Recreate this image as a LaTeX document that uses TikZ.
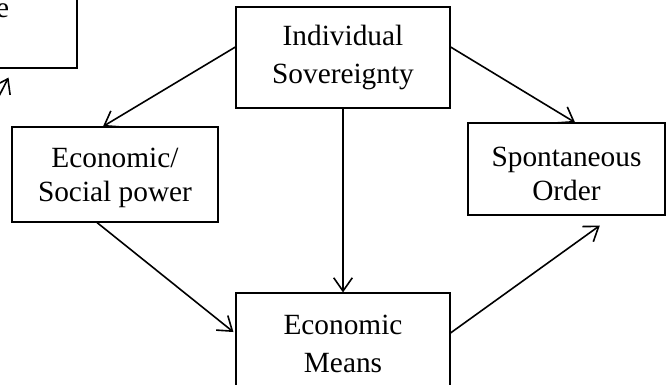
\documentclass[tikz,border=0pt]{standalone}
\usepackage{fontspec}
\setmainfont{Liberation Serif}
\usetikzlibrary{arrows.meta}
\begin{document}
\begin{tikzpicture}[x=0.75pt,y=-0.75pt,
  box/.style={draw, line width=0.8pt, inner sep=0pt, align=center,
    font=\fontsize{22pt}{28.5pt}\selectfont},
  txt/.style={inner sep=0pt, align=center, font=\fontsize{22pt}{26pt}\selectfont},
  conn/.style={line width=1.2pt, -{Straight Barb[length=10pt,width=14pt,line width=1.2pt]}}]
\useasboundingbox (0,0) rectangle (668,385);
\clip (0,0) rectangle (668,385);
\fill[white] (0,0) rectangle (668,385);
% partial box at top left
\node[box, minimum width=157*0.75pt, minimum height=108*0.75pt] (TL) at (-1.5,14) {};
\node[anchor=base east, inner sep=0pt, font=\fontsize{22pt}{28.5pt}\selectfont] (TLt) at (9.5,18) {e};
\coordinate (TLs) at (-3,100);
% main boxes
\node[box, minimum width=214*0.75pt, minimum height=101*0.75pt] (IS) at (343,57.5) {Individual\\Sovereignty};
\node[box, minimum width=206*0.75pt, minimum height=95*0.75pt] (ES) at (115,174.5) {};
\node[txt] (ESt) at (115,178) {Economic/\\Social power};
\node[box, minimum width=197*0.75pt, minimum height=92*0.75pt] (SO) at (566.5,169) {};
\node[txt] (SOt) at (566.5,174) {Spontaneous\\Order};
\node[box, minimum width=214*0.75pt, minimum height=101*0.75pt] (EM) at (343,343.5) {Economic\\Means};
% connectors
\draw[conn] (TLs) -- ([xshift=-51.75pt,yshift=-6.75pt]TL.south east);
\draw[conn] ([yshift=7.9pt]IS.west) -- ([xshift=-9pt]ES.north);
\draw[conn] ([yshift=7.9pt]IS.east) -- ([xshift=6.4pt]SO.north);
\draw[conn] (IS.south) -- (EM.north);
\draw[conn] ([xshift=-13.5pt]ES.south) -- ([yshift=8.6pt,xshift=-1.5pt]EM.west);
\draw[conn] ([yshift=7.9pt]EM.east) -- ([xshift=25pt,yshift=-7.5pt]SO.south);
\end{tikzpicture}
\end{document}
